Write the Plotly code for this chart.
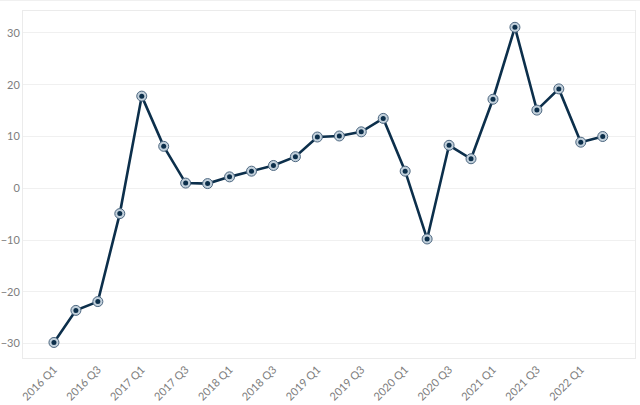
import plotly.graph_objects as go

quarters = ["2016 Q1", "2016 Q2", "2016 Q3", "2016 Q4",
            "2017 Q1", "2017 Q2", "2017 Q3", "2017 Q4",
            "2018 Q1", "2018 Q2", "2018 Q3", "2018 Q4",
            "2019 Q1", "2019 Q2", "2019 Q3", "2019 Q4",
            "2020 Q1", "2020 Q2", "2020 Q3", "2020 Q4",
            "2021 Q1", "2021 Q2", "2021 Q3", "2021 Q4",
            "2022 Q1", "2022 Q2"]
values = [-29.8, -23.6, -21.9, -4.9,
          17.8, 8.1, 1.0, 0.9,
          2.2, 3.3, 4.4, 6.1,
          9.9, 10.1, 10.9, 13.5,
          3.3, -9.8, 8.3, 5.7,
          17.2, 31.1, 15.1, 19.2,
          8.9, 10.0]
tick_labels = quarters[::2]
y_ticks = [-30, -20, -10, 0, 10, 20, 30]

fig = go.Figure()
fig.add_trace(go.Scatter(
    x=quarters, y=values, mode="lines",
    line=dict(color="#0c2f4b", width=2.6),
    showlegend=False, hoverinfo="skip",
))
fig.add_trace(go.Scatter(
    x=quarters, y=values, mode="markers",
    marker=dict(size=10, color="#c2d0db", line=dict(color="#4d6780", width=1)),
    showlegend=False, hoverinfo="skip",
))
fig.add_trace(go.Scatter(
    x=quarters, y=values, mode="markers",
    marker=dict(size=5, color="#0c2f4b", line=dict(width=0)),
    showlegend=False, hoverinfo="x+y",
))

fig.update_layout(
    width=640, height=405,
    margin=dict(l=23, r=5, t=11, b=47),
    paper_bgcolor="white", plot_bgcolor="white",
    font=dict(family="Lato, sans-serif", size=11, color="#7d7d7d"),
    xaxis=dict(
        type="category", range=[-1.41, 26.47], automargin=False,
        tickmode="array", tickvals=tick_labels, ticktext=tick_labels,
        tickangle=-45, showgrid=False, zeroline=False,
        showline=True, mirror=True, linecolor="#ebebeb", linewidth=1,
        ticks="", tickfont=dict(size=11, color="#7d7d7d"),
    ),
    yaxis=dict(
        range=[-32.8, 34.25], tickvals=y_ticks, automargin=False,
        showgrid=True, gridcolor="#f0f0f0", gridwidth=1,
        zeroline=False,
        showline=True, mirror=True, linecolor="#ebebeb", linewidth=1,
        ticks="", tickfont=dict(size=11, color="#7d7d7d"),
    ),
    shapes=[dict(type="line", xref="paper", yref="paper",
                 x0=-0.05, x1=1.02, y0=1.0305, y1=1.0305,
                 line=dict(color="#efefef", width=1))],
)

fig.write_html("out.html")
